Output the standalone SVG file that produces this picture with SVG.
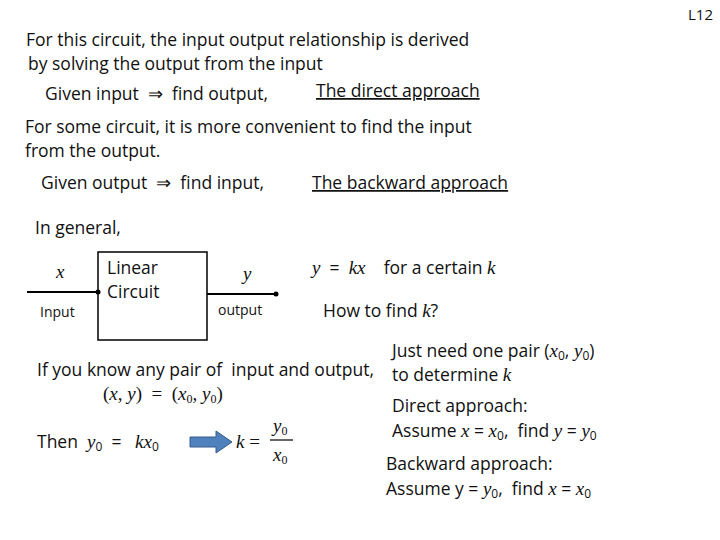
<svg xmlns="http://www.w3.org/2000/svg" width="720" height="540" viewBox="0 0 720 540" xml:space="preserve">
<style>
text{font-family:"Open Sans","Liberation Sans",sans-serif;font-size:17.5px;fill:#111;white-space:pre}
.m{font-family:"Liberation Serif",serif;font-style:italic;font-size:19px}
.s{font-size:14px}
.ln{stroke:#000;stroke-width:2;fill:none}
</style>
<rect width="720" height="540" fill="#fff"/>
<text x="688" y="20" class="s" style="font-size:15px">L12</text>
<text x="26" y="46">For this circuit, the input output relationship is derived</text>
<text x="28" y="70">by solving the output from the input</text>
<text x="45" y="100">Given input  ⇒  find output,</text>
<text x="316" y="97" text-decoration="underline">The direct approach</text>
<text x="25" y="133">For some circuit, it is more convenient to find the input</text>
<text x="25" y="157">from the output.</text>
<text x="41" y="189">Given output  ⇒  find input,</text>
<text x="312" y="189" text-decoration="underline">The backward approach</text>
<text x="35" y="234">In general,</text>
<g id="circuit">
<rect x="98" y="252" width="109" height="88" fill="none" stroke="#000" stroke-width="1.5"/>
<text x="107" y="274">Linear</text>
<text x="107" y="298">Circuit</text>
</g>
<g id="connectors">
<line x1="27" y1="292" x2="98" y2="292" class="ln"/><circle cx="98" cy="292" r="2.5"/>
<line x1="207" y1="294" x2="276" y2="294" class="ln"/><circle cx="276" cy="294" r="2.5"/>
</g>
<text x="56" y="278" class="m">x</text>
<text x="40" y="317" class="s">Input</text>
<text x="243" y="280" class="m">y</text>
<text x="218" y="315" class="s">output</text>
<text x="312" y="274"><tspan class="m">y</tspan>  =  <tspan class="m">kx</tspan>    for a certain <tspan class="m">k</tspan></text>
<text x="323" y="317">How to find <tspan class="m">k</tspan>?</text>
<text x="392" y="357">Just need one pair (<tspan class="m">x</tspan><tspan font-size="12" dy="3">0</tspan><tspan dy="-3">, </tspan><tspan class="m">y</tspan><tspan font-size="12" dy="3">0</tspan><tspan dy="-3">)</tspan></text>
<text x="392" y="381">to determine <tspan class="m">k</tspan></text>
<text x="37" y="376">If you know any pair of  input and output,</text>
<text x="103" y="400" class="m" style="font-style:normal">(<tspan font-style="italic">x</tspan>, <tspan font-style="italic">y</tspan>)  =  (<tspan font-style="italic">x</tspan><tspan font-size="12" dy="3">0</tspan><tspan dy="-3">, </tspan><tspan font-style="italic">y</tspan><tspan font-size="12" dy="3">0</tspan><tspan dy="-3">)</tspan></text>
<text x="392" y="412">Direct approach:</text>
<text x="392" y="437">Assume <tspan class="m">x</tspan> = <tspan class="m">x</tspan><tspan font-size="12" dy="3">0</tspan><tspan dy="-3">,  find </tspan><tspan class="m">y</tspan> = <tspan class="m">y</tspan><tspan font-size="12" dy="3">0</tspan></text>
<text x="37" y="448">Then  <tspan class="m">y</tspan><tspan font-size="12" dy="3">0</tspan><tspan dy="-3">  =   </tspan><tspan class="m">kx</tspan><tspan font-size="12" dy="3">0</tspan></text>
<path d="M190,437 H216 V431 L232,442 L216,453 V447 H190 Z" fill="#4f81bd" stroke="#385d8a" stroke-width="1"/>
<text x="236" y="448" class="m">k <tspan font-style="normal">=</tspan></text>
<text x="273" y="432" class="m">y<tspan font-size="12" font-style="normal" dy="3">0</tspan></text>
<line x1="270" y1="440" x2="293" y2="440" stroke="#000" stroke-width="1.2"/>
<text x="273" y="461" class="m">x<tspan font-size="12" font-style="normal" dy="3">0</tspan></text>
<text x="386" y="470">Backward approach:</text>
<text x="386" y="495">Assume y = <tspan class="m">y</tspan><tspan font-size="12" dy="3">0</tspan><tspan dy="-3">,  find </tspan><tspan class="m">x</tspan> = <tspan class="m">x</tspan><tspan font-size="12" dy="3">0</tspan></text>
</svg>
